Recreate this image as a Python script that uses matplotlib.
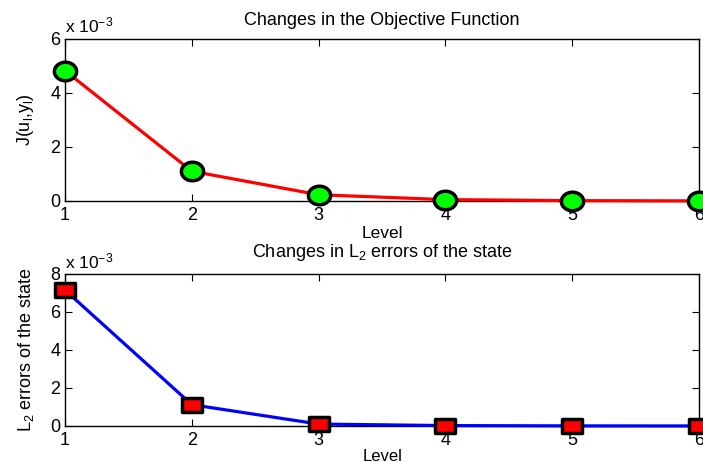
import numpy as np
import matplotlib.pyplot as plt
from matplotlib.path import Path
from matplotlib.ticker import FuncFormatter

plt.rcParams['font.family'] = ['Liberation Sans', 'DejaVu Sans']
plt.rcParams['mathtext.fontset'] = 'custom'
plt.rcParams['mathtext.rm'] = 'Liberation Sans'
plt.rcParams['mathtext.it'] = 'Liberation Sans'

# data
levels = [1, 2, 3, 4, 5, 6]
objective = [4.82e-3, 1.10e-3, 0.23e-3, 0.05e-3, 0.012e-3, 0.003e-3]
l2_state = [7.15e-3, 1.12e-3, 0.10e-3, 0.02e-3, 0.005e-3, 0.001e-3]

# the original picture is a bit wider than tall, so markers are too
t = np.linspace(0, 2 * np.pi, 60)
ellipse = Path(np.column_stack([1.2 * np.cos(t), np.sin(t)]), closed=True)
rect = Path([(-1.3, -1), (1.3, -1), (1.3, 1), (-1.3, 1), (-1.3, -1)], closed=True)

fig = plt.figure(figsize=(7.03, 4.62), dpi=100)
ax1 = fig.add_axes([0.0925, 0.565, 0.902, 0.351])
ax2 = fig.add_axes([0.0925, 0.078, 0.902, 0.329])

scale = FuncFormatter(lambda v, p: f"{v / 1e-3:g}")


def style(ax, ymax, ystep):
    ax.set_xlim(1, 6)
    ax.set_ylim(0, ymax)
    ax.set_xticks(levels)
    ax.set_yticks(np.arange(0, ymax + 1e-9, ystep))
    ax.yaxis.set_major_formatter(scale)
    ax.tick_params(direction='in', top=True, right=True, labelsize=13,
                   length=5, width=0.8)
    ax.tick_params(axis='x', pad=4)
    for s in ax.spines.values():
        s.set_linewidth(1.0)
    ax.text(0.0, 1.02, r'x 10$^{-3}$', transform=ax.transAxes,
            fontsize=12.5, ha='left', va='bottom')


ax1.plot(levels, objective, '-', color='red', lw=2.3, zorder=3, clip_on=False)
ax1.plot(levels, objective, ls='none', marker=ellipse,
         mfc='#00ff00', mec='black', mew=2.5, ms=16, clip_on=False, zorder=4)
style(ax1, 6e-3, 2e-3)
ax1.set_xlabel('Level', fontsize=12.5, labelpad=2)
ax1.set_title('Changes in the Objective Function', fontsize=13, pad=10)
ax1.set_ylabel(r'J(u$_l$,y$_l$)', fontsize=13, labelpad=10)

ax2.plot(levels, l2_state, '-', color='blue', lw=2.3, zorder=3, clip_on=False)
ax2.plot(levels, l2_state, ls='none', marker=rect,
         mfc='red', mec='black', mew=2.5, ms=14, clip_on=False, zorder=4)
style(ax2, 8e-3, 2e-3)
ax2.set_xlabel('Level', fontsize=12, labelpad=0)
ax2.set_title(r'Changes in L$_2$ errors of the state', fontsize=13, pad=12)
ax2.set_ylabel(r'L$_2$ errors of the state', fontsize=13, labelpad=10)

fig.savefig('out.png', dpi=100)
